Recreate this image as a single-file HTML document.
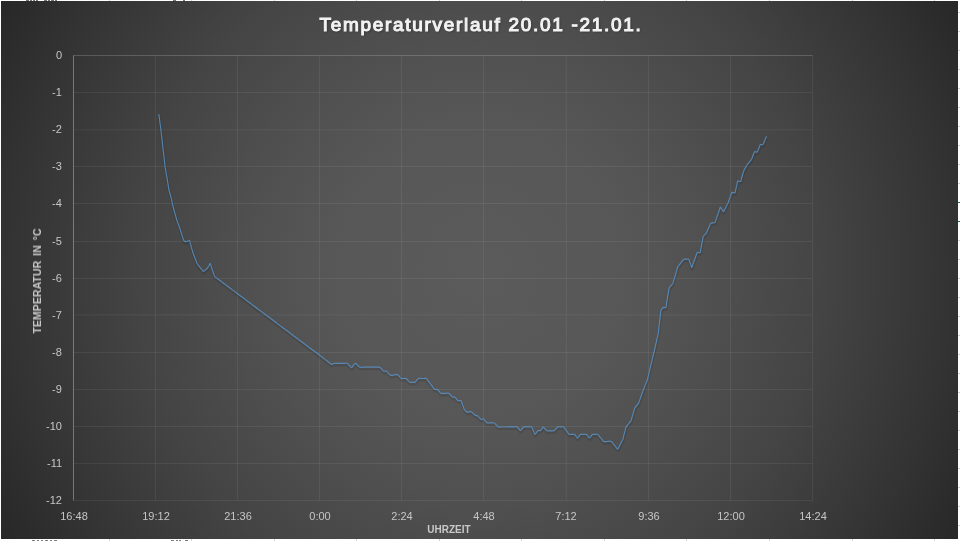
<!DOCTYPE html>
<html><head><meta charset="utf-8"><style>
html,body{margin:0;padding:0;width:960px;height:541px;overflow:hidden;background:#fff;}
#chart{position:absolute;left:1px;top:1px;width:957px;height:538px;
background:radial-gradient(circle 560px at 478.5px 268.8px, #5b5b5b 0px, #575757 150px, #505050 230px, #444444 345px, #333333 470px, #292929 538px, #262626 560px);}
svg{position:absolute;left:0;top:0;}
.t{position:absolute;font-family:"Liberation Sans",sans-serif;}
.t,.yl,.xl{will-change:transform;}
#title{left:2px;width:958px;top:14px;text-align:center;font-size:19px;font-weight:normal;-webkit-text-stroke:1.1px #f2f2f2;color:#f2f2f2;letter-spacing:1.7px;text-shadow:1px 1px 2px rgba(0,0,0,0.45);line-height:22px;}
.yl{position:absolute;right:898px;font-family:"Liberation Sans",sans-serif;font-size:11px;color:#c6c6c6;line-height:12px;margin-top:-6.4px;white-space:nowrap;}
.xl{position:absolute;top:510px;font-family:"Liberation Sans",sans-serif;font-size:11px;color:#c6c6c6;line-height:12px;width:60px;margin-left:-30px;text-align:center;}
#xt{left:0;width:898px;top:524px;text-align:center;font-size:10px;font-weight:bold;color:#c8c8c8;line-height:12px;}
#yt{left:37px;top:280.5px;font-size:10.6px;word-spacing:2px;font-weight:bold;color:#c8c8c8;line-height:12px;white-space:nowrap;transform:translate(-50%,-50%) rotate(-90deg);}
</style></head><body>
<div style="position:absolute;left:109px;top:0;width:1px;height:1px;background:#d4d4d4"></div>
<div style="position:absolute;left:109px;top:539px;width:1px;height:2px;background:#d4d4d4"></div>
<div style="position:absolute;left:191px;top:0;width:1px;height:1px;background:#d4d4d4"></div>
<div style="position:absolute;left:191px;top:539px;width:1px;height:2px;background:#d4d4d4"></div>
<div style="position:absolute;left:274px;top:0;width:1px;height:1px;background:#d4d4d4"></div>
<div style="position:absolute;left:274px;top:539px;width:1px;height:2px;background:#d4d4d4"></div>
<div style="position:absolute;left:356px;top:0;width:1px;height:1px;background:#d4d4d4"></div>
<div style="position:absolute;left:356px;top:539px;width:1px;height:2px;background:#d4d4d4"></div>
<div style="position:absolute;left:439px;top:0;width:1px;height:1px;background:#d4d4d4"></div>
<div style="position:absolute;left:439px;top:539px;width:1px;height:2px;background:#d4d4d4"></div>
<div style="position:absolute;left:521px;top:0;width:1px;height:1px;background:#d4d4d4"></div>
<div style="position:absolute;left:521px;top:539px;width:1px;height:2px;background:#d4d4d4"></div>
<div style="position:absolute;left:604px;top:0;width:1px;height:1px;background:#d4d4d4"></div>
<div style="position:absolute;left:604px;top:539px;width:1px;height:2px;background:#d4d4d4"></div>
<div style="position:absolute;left:686px;top:0;width:1px;height:1px;background:#d4d4d4"></div>
<div style="position:absolute;left:686px;top:539px;width:1px;height:2px;background:#d4d4d4"></div>
<div style="position:absolute;left:769px;top:0;width:1px;height:1px;background:#d4d4d4"></div>
<div style="position:absolute;left:769px;top:539px;width:1px;height:2px;background:#d4d4d4"></div>
<div style="position:absolute;left:852px;top:0;width:1px;height:1px;background:#d4d4d4"></div>
<div style="position:absolute;left:852px;top:539px;width:1px;height:2px;background:#d4d4d4"></div>
<div style="position:absolute;left:934px;top:0;width:1px;height:1px;background:#d4d4d4"></div>
<div style="position:absolute;left:934px;top:539px;width:1px;height:2px;background:#d4d4d4"></div>
<div style="position:absolute;left:958px;top:12px;width:2px;height:1px;background:#d4d4d4"></div>
<div style="position:absolute;left:958px;top:31px;width:2px;height:1px;background:#d4d4d4"></div>
<div style="position:absolute;left:958px;top:50px;width:2px;height:1px;background:#d4d4d4"></div>
<div style="position:absolute;left:958px;top:69px;width:2px;height:1px;background:#d4d4d4"></div>
<div style="position:absolute;left:958px;top:88px;width:2px;height:1px;background:#d4d4d4"></div>
<div style="position:absolute;left:958px;top:107px;width:2px;height:1px;background:#d4d4d4"></div>
<div style="position:absolute;left:958px;top:126px;width:2px;height:1px;background:#d4d4d4"></div>
<div style="position:absolute;left:958px;top:145px;width:2px;height:1px;background:#d4d4d4"></div>
<div style="position:absolute;left:958px;top:164px;width:2px;height:1px;background:#d4d4d4"></div>
<div style="position:absolute;left:958px;top:183px;width:2px;height:1px;background:#d4d4d4"></div>
<div style="position:absolute;left:958px;top:202px;width:2px;height:1px;background:#217346"></div>
<div style="position:absolute;left:958px;top:221px;width:2px;height:1px;background:#217346"></div>
<div style="position:absolute;left:958px;top:240px;width:2px;height:1px;background:#d4d4d4"></div>
<div style="position:absolute;left:958px;top:259px;width:2px;height:1px;background:#d4d4d4"></div>
<div style="position:absolute;left:958px;top:278px;width:2px;height:1px;background:#d4d4d4"></div>
<div style="position:absolute;left:958px;top:297px;width:2px;height:1px;background:#d4d4d4"></div>
<div style="position:absolute;left:958px;top:316px;width:2px;height:1px;background:#d4d4d4"></div>
<div style="position:absolute;left:958px;top:335px;width:2px;height:1px;background:#d4d4d4"></div>
<div style="position:absolute;left:958px;top:354px;width:2px;height:1px;background:#d4d4d4"></div>
<div style="position:absolute;left:958px;top:373px;width:2px;height:1px;background:#d4d4d4"></div>
<div style="position:absolute;left:958px;top:392px;width:2px;height:1px;background:#d4d4d4"></div>
<div style="position:absolute;left:958px;top:411px;width:2px;height:1px;background:#d4d4d4"></div>
<div style="position:absolute;left:958px;top:430px;width:2px;height:1px;background:#d4d4d4"></div>
<div style="position:absolute;left:958px;top:449px;width:2px;height:1px;background:#d4d4d4"></div>
<div style="position:absolute;left:958px;top:468px;width:2px;height:1px;background:#d4d4d4"></div>
<div style="position:absolute;left:958px;top:487px;width:2px;height:1px;background:#d4d4d4"></div>
<div style="position:absolute;left:958px;top:506px;width:2px;height:1px;background:#d4d4d4"></div>
<div style="position:absolute;left:958px;top:525px;width:2px;height:1px;background:#d4d4d4"></div>
<div style="position:absolute;left:26px;top:0;width:3px;height:1px;background:#000;opacity:0.55"></div>
<div style="position:absolute;left:30px;top:0;width:2px;height:1px;background:#000;opacity:0.55"></div>
<div style="position:absolute;left:33px;top:0;width:2px;height:1px;background:#000;opacity:0.55"></div>
<div style="position:absolute;left:36px;top:0;width:2px;height:1px;background:#000;opacity:0.55"></div>
<div style="position:absolute;left:44px;top:0;width:3px;height:1px;background:#000;opacity:0.55"></div>
<div style="position:absolute;left:48px;top:0;width:2px;height:1px;background:#000;opacity:0.55"></div>
<div style="position:absolute;left:51px;top:0;width:3px;height:1px;background:#000;opacity:0.55"></div>
<div style="position:absolute;left:55px;top:0;width:2px;height:1px;background:#000;opacity:0.55"></div>
<div style="position:absolute;left:173px;top:0;width:3px;height:1px;background:#000;opacity:0.55"></div>
<div style="position:absolute;left:183px;top:0;width:2px;height:1px;background:#000;opacity:0.55"></div>
<div style="position:absolute;left:32px;top:540px;width:3px;height:1px;background:#000;opacity:0.5"></div>
<div style="position:absolute;left:37px;top:540px;width:2px;height:1px;background:#000;opacity:0.5"></div>
<div style="position:absolute;left:41px;top:540px;width:2px;height:1px;background:#000;opacity:0.5"></div>
<div style="position:absolute;left:45px;top:540px;width:3px;height:1px;background:#000;opacity:0.5"></div>
<div style="position:absolute;left:50px;top:540px;width:2px;height:1px;background:#000;opacity:0.5"></div>
<div style="position:absolute;left:54px;top:540px;width:3px;height:1px;background:#000;opacity:0.5"></div>
<div style="position:absolute;left:171px;top:540px;width:3px;height:1px;background:#000;opacity:0.5"></div>
<div style="position:absolute;left:176px;top:540px;width:2px;height:1px;background:#000;opacity:0.5"></div>
<div style="position:absolute;left:179px;top:540px;width:2px;height:1px;background:#000;opacity:0.5"></div>
<div style="position:absolute;left:185px;top:540px;width:3px;height:1px;background:#000;opacity:0.5"></div>
<div id="chart"></div>
<svg width="960" height="541" viewBox="0 0 960 541">
<g stroke="#ffffff" stroke-opacity="0.065" stroke-width="1">
<line x1="73.5" y1="55.5" x2="812.5" y2="55.5"/>
<line x1="73.5" y1="92.5" x2="812.5" y2="92.5"/>
<line x1="73.5" y1="129.8" x2="812.5" y2="129.8"/>
<line x1="73.5" y1="166.5" x2="812.5" y2="166.5"/>
<line x1="73.5" y1="203.5" x2="812.5" y2="203.5"/>
<line x1="73.5" y1="241.5" x2="812.5" y2="241.5"/>
<line x1="73.5" y1="278.5" x2="812.5" y2="278.5"/>
<line x1="73.5" y1="314.9" x2="812.5" y2="314.9"/>
<line x1="73.5" y1="352.5" x2="812.5" y2="352.5"/>
<line x1="73.5" y1="389.5" x2="812.5" y2="389.5"/>
<line x1="73.5" y1="426.5" x2="812.5" y2="426.5"/>
<line x1="73.5" y1="463.5" x2="812.5" y2="463.5"/>
<line x1="73.5" y1="500.5" x2="812.5" y2="500.5"/>
<line x1="155.5" y1="55.5" x2="155.5" y2="500.5"/>
<line x1="237.5" y1="55.5" x2="237.5" y2="500.5"/>
<line x1="319.5" y1="55.5" x2="319.5" y2="500.5"/>
<line x1="401.5" y1="55.5" x2="401.5" y2="500.5"/>
<line x1="483.5" y1="55.5" x2="483.5" y2="500.5"/>
<line x1="566.3" y1="55.5" x2="566.3" y2="500.5"/>
<line x1="648.5" y1="55.5" x2="648.5" y2="500.5"/>
<line x1="730.5" y1="55.5" x2="730.5" y2="500.5"/>
<line x1="812.5" y1="55.5" x2="812.5" y2="500.5"/>
</g>
<line x1="73.5" y1="55.5" x2="73.5" y2="500.5" stroke="#ffffff" stroke-opacity="0.33" stroke-width="1"/>
<line x1="73.5" y1="55.5" x2="812.5" y2="55.5" stroke="#ffffff" stroke-opacity="0.12" stroke-width="1"/>
<path d="M158.90 114.60 C159.0 115.1 159.2 116.9 159.3 117.6 C159.4 118.4 159.6 119.9 159.7 120.6 C159.8 121.4 160.0 122.9 160.1 123.7 C160.2 124.4 160.4 125.9 160.5 126.7 C160.6 127.4 160.8 128.9 160.9 129.7 C161.0 130.5 161.2 132.0 161.2 132.8 C161.3 133.6 161.5 135.1 161.6 135.9 C161.7 136.7 161.9 138.2 161.9 139.0 C162.0 139.7 162.2 141.3 162.3 142.1 C162.4 142.8 162.6 144.4 162.7 145.2 C162.7 145.9 162.9 147.5 163.0 148.2 C163.1 149.0 163.3 150.6 163.3 151.3 C163.4 152.1 163.6 153.7 163.7 154.4 C163.8 155.2 164.0 156.8 164.1 157.5 C164.1 158.3 164.3 159.8 164.4 160.6 C164.5 161.4 164.7 162.9 164.8 163.7 C164.8 164.5 165.0 166.0 165.1 166.8 C165.2 167.6 165.5 169.3 165.7 170.1 C165.8 170.9 166.1 172.6 166.2 173.4 C166.3 174.2 166.6 175.9 166.8 176.7 C166.9 177.5 167.2 179.2 167.3 180.0 C167.4 180.7 167.6 182.0 167.8 182.7 C167.9 183.3 168.1 184.7 168.2 185.3 C168.3 186.0 168.5 187.4 168.7 188.0 C168.8 188.7 168.9 190.0 169.1 190.7 C169.3 191.6 169.8 193.3 170.1 194.2 C170.3 195.1 170.9 196.8 171.1 197.7 C171.3 198.3 171.5 199.6 171.7 200.3 C171.8 200.9 172.1 202.2 172.2 202.9 C172.4 203.6 172.6 204.9 172.8 205.5 C173.0 206.2 173.3 207.5 173.5 208.2 C173.7 208.8 174.1 210.2 174.2 210.8 C174.4 211.5 174.8 212.8 175.0 213.5 C175.1 214.1 175.5 215.5 175.7 216.1 C175.9 216.8 176.2 218.1 176.4 218.8 C176.6 219.5 177.1 220.8 177.3 221.4 C177.6 222.1 178.0 223.3 178.2 224.0 C178.5 224.7 178.9 225.9 179.2 226.6 C179.4 227.2 179.9 228.5 180.1 229.2 C180.3 229.9 180.8 231.4 181.0 232.1 C181.3 232.8 181.7 234.2 181.9 234.9 C182.2 235.7 182.6 237.1 182.9 237.8 C183.1 238.5 183.3 240.1 183.8 240.7 C184.2 241.2 185.5 241.7 186.1 241.7 C187.0 241.7 188.7 240.3 189.4 240.5 C190.1 240.7 190.0 242.5 190.2 243.2 C190.4 243.8 190.8 245.2 191.0 245.8 C191.2 246.5 191.5 247.8 191.7 248.5 C191.9 249.1 192.3 250.5 192.5 251.1 C192.7 251.8 193.1 253.1 193.3 253.8 C193.5 254.4 194.0 255.7 194.3 256.3 C194.5 256.9 195.0 258.2 195.2 258.8 C195.5 259.4 196.0 260.7 196.2 261.3 C196.5 261.9 196.9 263.2 197.2 263.8 C197.6 264.5 198.7 265.7 199.2 266.3 C199.7 267.0 200.8 268.2 201.3 268.9 C201.8 269.5 202.6 271.2 203.3 271.4 C203.9 271.5 204.8 270.2 205.2 269.9 C205.7 269.5 206.8 268.8 207.2 268.3 C207.7 267.8 208.4 266.5 208.8 266.0 C209.1 265.4 209.9 263.4 210.3 263.6 C210.7 263.8 211.1 266.2 211.4 267.1 C211.7 267.9 212.2 269.6 212.5 270.5 C212.8 271.3 213.3 272.8 213.6 273.6 C213.9 274.3 214.2 275.9 214.7 276.6 C215.1 277.2 216.5 277.9 217.1 278.4 C217.7 278.8 218.9 279.7 219.5 280.2 C220.1 280.6 221.3 281.5 221.9 282.0 C222.5 282.4 223.6 283.3 224.2 283.8 C224.8 284.2 226.0 285.1 226.6 285.5 C227.2 286.0 228.4 286.9 229.0 287.3 C229.6 287.8 230.8 288.7 231.4 289.1 C232.0 289.6 233.2 290.5 233.8 290.9 C234.4 291.4 235.6 292.3 236.2 292.7 C236.8 293.2 238.0 294.1 238.6 294.5 C239.2 294.9 240.3 295.8 240.9 296.3 C241.5 296.7 242.7 297.6 243.3 298.1 C243.9 298.5 245.1 299.4 245.7 299.9 C246.3 300.3 247.5 301.2 248.1 301.7 C248.7 302.1 249.9 303.0 250.5 303.4 C251.1 303.9 252.3 304.8 252.9 305.2 C253.5 305.7 254.7 306.6 255.3 307.0 C255.9 307.5 257.0 308.4 257.6 308.8 C258.2 309.3 259.4 310.2 260.0 310.6 C260.6 311.1 261.8 311.9 262.4 312.4 C263.0 312.8 264.2 313.7 264.8 314.2 C265.4 314.6 266.6 315.5 267.2 316.0 C267.8 316.4 269.0 317.3 269.6 317.8 C270.2 318.2 271.4 319.1 272.0 319.6 C272.6 320.0 273.7 320.9 274.3 321.3 C274.9 321.8 276.1 322.7 276.7 323.1 C277.3 323.6 278.5 324.5 279.1 324.9 C279.7 325.4 280.9 326.3 281.5 326.7 C282.1 327.2 283.3 328.1 283.9 328.5 C284.5 329.0 285.7 329.8 286.3 330.3 C286.9 330.7 288.1 331.6 288.7 332.1 C289.3 332.5 290.4 333.4 291.0 333.9 C291.6 334.3 292.8 335.2 293.4 335.7 C294.0 336.1 295.2 337.0 295.8 337.5 C296.4 337.9 297.6 338.8 298.2 339.2 C298.8 339.7 300.0 340.6 300.6 341.0 C301.2 341.5 302.4 342.4 303.0 342.8 C303.6 343.3 304.8 344.2 305.4 344.6 C306.0 345.1 307.1 346.0 307.7 346.4 C308.3 346.8 309.5 347.7 310.1 348.2 C310.7 348.6 311.9 349.5 312.5 350.0 C313.1 350.4 314.3 351.3 314.9 351.8 C315.5 352.2 316.7 353.1 317.3 353.6 C317.9 354.0 319.1 354.9 319.7 355.4 C320.3 355.8 321.5 356.7 322.1 357.1 C322.7 357.6 323.8 358.5 324.4 358.9 C325.0 359.4 326.2 360.3 326.8 360.7 C327.4 361.2 328.6 362.1 329.2 362.5 C329.8 363.0 330.9 364.2 331.6 364.3 C332.3 364.4 333.7 363.4 334.4 363.3 C335.2 363.2 336.8 363.3 337.6 363.3 C338.4 363.3 340.0 363.3 340.8 363.3 C341.6 363.3 343.2 363.3 344.0 363.3 C344.8 363.3 346.5 363.0 347.2 363.3 C347.9 363.6 348.8 364.9 349.4 365.4 C349.9 365.9 350.9 367.5 351.6 367.5 C352.3 367.5 353.0 365.9 353.5 365.4 C353.9 364.9 354.6 363.3 355.3 363.3 C356.0 363.3 357.0 364.8 357.6 365.2 C358.2 365.7 359.2 366.9 359.9 367.2 C360.6 367.5 362.0 367.2 362.8 367.2 C363.5 367.2 364.9 367.2 365.6 367.2 C366.3 367.2 367.8 367.2 368.5 367.2 C369.2 367.2 370.6 367.2 371.3 367.2 C372.0 367.2 373.5 367.2 374.2 367.2 C374.9 367.2 376.3 367.2 377.0 367.2 C377.8 367.2 379.2 366.9 379.9 367.2 C380.5 367.5 381.3 368.7 381.8 369.2 C382.3 369.7 383.1 370.9 383.7 371.2 C384.3 371.5 385.9 370.9 386.5 371.2 C387.1 371.5 388.0 372.7 388.4 373.2 C388.9 373.7 389.7 375.0 390.4 375.2 C391.3 375.5 393.1 375.1 394.0 375.0 C394.9 374.9 396.7 374.5 397.6 374.8 C398.3 375.0 399.1 376.2 399.6 376.7 C400.0 377.2 400.8 378.4 401.5 378.6 C402.6 378.9 404.8 378.1 405.9 378.4 C406.6 378.6 407.4 379.8 407.9 380.3 C408.3 380.8 409.2 381.9 409.8 382.2 C410.4 382.5 411.8 382.3 412.4 382.3 C413.1 382.3 414.4 382.7 415.0 382.4 C415.6 382.1 416.2 380.9 416.6 380.4 C417.1 380.0 417.7 378.8 418.3 378.5 C418.9 378.2 420.3 378.5 421.0 378.5 C421.7 378.5 423.0 378.5 423.7 378.5 C424.4 378.5 425.8 378.2 426.4 378.5 C427.1 378.9 427.9 380.5 428.4 381.2 C428.9 381.8 429.9 383.2 430.4 383.9 C430.9 384.5 431.9 385.9 432.4 386.5 C432.9 387.2 433.7 388.8 434.4 389.2 C435.1 389.6 436.9 389.3 437.7 389.6 C438.3 389.9 438.9 391.0 439.4 391.5 C439.8 391.9 440.4 393.1 441.0 393.3 C441.6 393.6 443.0 393.3 443.6 393.3 C444.2 393.3 445.6 393.3 446.2 393.3 C446.9 393.3 448.2 393.0 448.8 393.3 C449.4 393.6 450.3 394.8 450.8 395.2 C451.2 395.7 452.1 396.9 452.7 397.2 C453.2 397.4 454.4 397.0 454.9 397.2 C455.4 397.4 456.1 398.5 456.5 398.9 C457.0 399.4 457.6 400.5 458.2 400.7 C458.9 401.0 460.4 400.3 461.0 400.7 C461.6 401.2 461.8 402.8 462.1 403.6 C462.4 404.3 462.9 405.7 463.2 406.4 C463.5 407.2 463.9 408.7 464.3 409.3 C464.9 410.1 466.2 411.8 467.1 412.1 C468.0 412.4 470.0 411.4 471.0 411.6 C471.7 411.8 472.6 413.0 473.2 413.5 C473.8 414.0 474.8 415.1 475.4 415.4 C475.9 415.7 477.1 415.5 477.6 415.8 C478.1 416.1 478.9 417.1 479.3 417.6 C479.7 418.0 480.4 419.1 481.0 419.3 C481.6 419.5 483.1 419.0 483.7 419.3 C484.3 419.5 485.0 420.7 485.4 421.1 C485.8 421.6 486.5 422.7 487.1 422.9 C487.9 423.2 489.8 422.9 490.6 422.9 C491.5 423.0 493.4 422.7 494.2 423.0 C494.9 423.2 495.7 424.5 496.2 425.0 C496.8 425.5 497.6 426.7 498.3 427.0 C499.0 427.3 500.7 427.0 501.4 427.0 C502.2 427.0 503.8 427.0 504.6 427.0 C505.4 427.0 506.9 427.0 507.7 426.9 C508.5 426.9 510.1 426.9 510.8 426.9 C511.6 426.9 513.2 426.9 514.0 426.9 C514.8 426.9 516.4 426.6 517.1 426.9 C517.7 427.1 518.3 428.2 518.8 428.7 C519.2 429.1 519.8 430.5 520.4 430.5 C521.0 430.5 521.7 429.1 522.1 428.7 C522.6 428.2 523.3 427.1 523.9 426.9 C524.5 426.7 525.9 426.9 526.5 426.9 C527.1 426.9 528.5 426.9 529.1 426.9 C529.8 426.9 531.2 426.5 531.7 426.9 C532.3 427.3 532.5 428.8 532.8 429.4 C533.1 430.0 533.6 431.3 533.9 431.9 C534.2 432.5 534.6 434.3 535.0 434.4 C535.4 434.5 536.1 433.1 536.5 432.6 C536.8 432.2 537.4 431.1 537.9 430.8 C538.5 430.5 540.0 430.9 540.5 430.5 C541.4 429.9 542.5 427.4 543.3 427.1 C543.9 426.9 544.6 428.5 545.0 429.0 C545.5 429.4 546.2 430.6 546.8 430.8 C547.7 431.1 549.5 430.8 550.5 430.8 C551.4 430.8 553.2 431.1 554.1 430.8 C554.7 430.6 555.5 429.3 555.9 428.9 C556.4 428.4 557.1 427.2 557.7 426.9 C558.4 426.6 559.8 426.9 560.5 426.9 C561.3 426.9 562.8 426.6 563.4 426.9 C564.1 427.3 564.9 428.8 565.3 429.4 C565.8 430.0 566.8 431.3 567.3 431.9 C567.8 432.5 568.5 434.0 569.2 434.4 C569.8 434.7 571.1 434.4 571.8 434.4 C572.4 434.4 573.8 434.1 574.4 434.4 C575.0 434.6 575.6 435.8 576.0 436.2 C576.3 436.7 577.0 438.1 577.5 438.1 C578.0 438.1 578.7 436.7 579.0 436.2 C579.4 435.8 580.0 434.6 580.6 434.4 C581.3 434.1 582.8 434.4 583.5 434.4 C584.2 434.4 585.7 434.1 586.4 434.4 C586.9 434.6 587.5 435.8 587.8 436.2 C588.2 436.6 588.8 438.0 589.3 438.0 C589.8 438.0 590.5 436.6 591.0 436.2 C591.4 435.8 592.0 434.6 592.6 434.4 C593.2 434.1 594.6 434.4 595.2 434.4 C595.9 434.4 597.2 434.1 597.8 434.4 C598.5 434.8 599.3 436.2 599.8 436.8 C600.3 437.4 601.2 438.6 601.7 439.2 C602.2 439.8 603.0 441.3 603.7 441.6 C604.6 441.9 606.5 441.5 607.4 441.5 C608.3 441.5 610.2 441.0 611.1 441.4 C611.9 441.7 612.8 443.3 613.3 444.0 C613.9 444.6 615.0 445.9 615.5 446.6 C616.0 447.2 617.1 449.2 617.7 449.2 C618.3 449.2 618.7 447.3 619.0 446.7 C619.3 446.1 620.0 444.8 620.3 444.2 C620.6 443.6 621.3 442.3 621.6 441.7 C621.9 441.1 622.7 439.9 622.9 439.2 C623.2 438.5 623.5 437.0 623.6 436.2 C623.8 435.5 624.2 434.0 624.4 433.2 C624.6 432.5 625.0 431.0 625.1 430.3 C625.3 429.5 625.6 428.0 625.9 427.3 C626.2 426.7 627.2 425.7 627.6 425.1 C628.0 424.6 628.9 423.4 629.3 422.9 C629.7 422.3 630.7 421.3 631.0 420.7 C631.4 420.0 631.7 418.3 631.9 417.6 C632.2 416.8 632.6 415.2 632.9 414.4 C633.1 413.6 633.5 412.0 633.8 411.2 C634.0 410.5 634.3 408.8 634.7 408.1 C635.0 407.5 636.1 406.4 636.5 405.9 C637.0 405.3 638.0 404.3 638.4 403.7 C638.8 403.1 639.1 401.6 639.4 401.0 C639.6 400.3 640.1 398.9 640.4 398.2 C640.6 397.5 641.1 396.2 641.3 395.5 C641.6 394.8 642.1 393.4 642.3 392.7 C642.6 392.1 643.0 390.7 643.3 390.0 C643.5 389.4 644.0 388.1 644.3 387.5 C644.5 386.9 645.0 385.6 645.3 385.0 C645.5 384.4 646.0 383.1 646.3 382.5 C646.5 381.9 647.1 380.6 647.3 380.0 C647.5 379.3 647.8 377.9 648.0 377.2 C648.1 376.5 648.5 375.0 648.7 374.3 C648.8 373.6 649.2 372.2 649.3 371.5 C649.5 370.8 649.8 369.3 650.0 368.6 C650.2 367.9 650.5 366.5 650.7 365.8 C650.9 365.1 651.2 363.7 651.4 363.0 C651.5 362.3 651.9 360.8 652.1 360.1 C652.2 359.4 652.6 358.0 652.7 357.3 C652.9 356.6 653.3 355.2 653.4 354.4 C653.6 353.7 653.9 352.3 654.1 351.6 C654.3 350.8 654.6 349.3 654.8 348.6 C655.0 347.8 655.3 346.3 655.5 345.5 C655.7 344.7 656.0 343.2 656.2 342.5 C656.4 341.7 656.7 340.2 656.9 339.4 C657.1 338.6 657.4 337.1 657.6 336.4 C657.8 335.6 658.2 334.1 658.3 333.3 C658.4 332.6 658.5 331.2 658.6 330.5 C658.7 329.8 658.8 328.4 658.9 327.7 C659.0 327.0 659.2 325.6 659.2 324.9 C659.3 324.2 659.5 322.8 659.5 322.1 C659.6 321.3 659.8 319.9 659.9 319.2 C659.9 318.5 660.1 317.1 660.2 316.4 C660.3 315.7 660.4 314.3 660.5 313.6 C660.6 312.9 660.5 311.4 660.8 310.8 C661.2 309.9 662.5 308.1 663.3 307.5 C663.8 307.2 665.3 307.9 665.8 307.5 C666.3 307.0 666.2 305.4 666.3 304.7 C666.4 304.0 666.6 302.7 666.7 302.0 C666.9 301.3 667.1 299.9 667.2 299.2 C667.3 298.5 667.6 297.1 667.7 296.4 C667.8 295.7 668.0 294.3 668.2 293.6 C668.3 292.9 668.5 291.6 668.6 290.9 C668.7 290.2 668.8 288.7 669.1 288.1 C669.4 287.4 670.5 286.4 671.0 285.9 C671.4 285.3 672.5 284.2 672.8 283.6 C673.1 282.9 673.4 281.5 673.6 280.8 C673.9 280.1 674.3 278.6 674.5 277.9 C674.7 277.2 675.1 275.8 675.3 275.1 C675.6 274.4 676.0 273.0 676.2 272.3 C676.4 271.6 676.8 270.1 677.0 269.4 C677.3 268.7 677.6 267.3 677.9 266.6 C678.3 265.9 679.4 264.8 679.9 264.1 C680.4 263.5 681.3 262.3 681.8 261.7 C682.3 261.1 683.1 259.6 683.8 259.2 C684.3 258.9 685.6 259.2 686.2 259.2 C686.9 259.2 688.2 258.8 688.7 259.2 C689.3 259.7 689.5 261.2 689.7 261.9 C690.0 262.6 690.5 264.0 690.7 264.7 C691.0 265.3 691.4 267.4 691.7 267.4 C692.1 267.4 692.5 265.2 692.8 264.4 C693.1 263.7 693.6 262.2 693.9 261.5 C694.2 260.7 694.7 259.3 695.0 258.5 C695.3 257.8 695.8 256.3 696.1 255.6 C696.4 254.8 696.6 253.1 697.2 252.6 C697.8 252.2 699.6 253.1 700.1 252.6 C700.7 252.1 700.6 250.2 700.7 249.4 C700.9 248.6 701.2 247.0 701.4 246.2 C701.5 245.4 701.9 243.7 702.0 242.9 C702.2 242.1 702.5 240.5 702.7 239.7 C702.8 238.9 702.9 237.2 703.3 236.5 C703.8 235.5 705.7 234.1 706.3 233.2 C706.7 232.6 707.1 231.3 707.4 230.7 C707.7 230.1 708.3 228.8 708.5 228.2 C708.8 227.6 709.4 226.3 709.7 225.7 C710.0 225.1 710.2 223.6 710.8 223.2 C711.7 222.6 714.1 223.0 715.0 222.4 C715.6 221.9 715.8 220.2 716.1 219.4 C716.3 218.7 716.9 217.2 717.1 216.4 C717.4 215.7 717.9 214.2 718.2 213.4 C718.4 212.7 719.0 211.2 719.2 210.4 C719.5 209.7 719.8 207.6 720.3 207.4 C720.8 207.2 721.5 209.0 722.0 209.5 C722.4 210.0 723.1 211.8 723.6 211.6 C724.1 211.4 724.8 209.3 725.2 208.5 C725.6 207.8 726.3 206.2 726.7 205.5 C727.1 204.7 728.0 203.2 728.3 202.4 C728.6 201.8 729.0 200.5 729.2 199.9 C729.4 199.3 729.9 198.0 730.1 197.4 C730.3 196.8 730.8 195.5 731.0 194.9 C731.2 194.3 731.3 192.7 731.9 192.4 C732.5 192.1 734.3 193.3 734.9 192.9 C735.5 192.5 735.4 190.7 735.6 190.0 C735.8 189.3 736.1 187.8 736.3 187.1 C736.5 186.4 736.8 184.9 737.0 184.2 C737.2 183.5 737.1 181.8 737.7 181.3 C738.3 180.8 740.1 181.8 740.7 181.4 C741.3 181.0 741.2 179.5 741.4 178.8 C741.6 178.2 742.0 176.9 742.2 176.3 C742.3 175.7 742.7 174.4 742.9 173.8 C743.1 173.1 743.3 171.8 743.6 171.2 C743.9 170.4 744.8 169.0 745.2 168.2 C745.6 167.5 746.3 166.0 746.8 165.3 C747.3 164.5 748.5 163.1 749.1 162.4 C749.7 161.7 750.9 160.3 751.4 159.5 C751.8 158.9 752.2 157.6 752.5 156.9 C752.7 156.2 753.3 154.9 753.5 154.3 C753.8 153.6 754.0 152.1 754.6 151.7 C755.2 151.4 756.6 152.4 757.2 152.1 C757.8 151.8 758.0 150.2 758.3 149.6 C758.5 149.0 759.1 147.7 759.3 147.1 C759.6 146.5 759.8 145.0 760.4 144.6 C760.9 144.2 762.5 145.0 763.0 144.6 C763.6 144.2 763.8 142.7 764.1 142.0 C764.4 141.3 764.9 140.1 765.2 139.4 C765.5 138.8 766.1 137.2 766.3 136.8" fill="none" stroke="#000" stroke-opacity="0.10" stroke-width="3" stroke-linejoin="round" transform="translate(0.3,1.6)"/>
<path d="M158.90 114.60 C159.0 115.1 159.2 116.9 159.3 117.6 C159.4 118.4 159.6 119.9 159.7 120.6 C159.8 121.4 160.0 122.9 160.1 123.7 C160.2 124.4 160.4 125.9 160.5 126.7 C160.6 127.4 160.8 128.9 160.9 129.7 C161.0 130.5 161.2 132.0 161.2 132.8 C161.3 133.6 161.5 135.1 161.6 135.9 C161.7 136.7 161.9 138.2 161.9 139.0 C162.0 139.7 162.2 141.3 162.3 142.1 C162.4 142.8 162.6 144.4 162.7 145.2 C162.7 145.9 162.9 147.5 163.0 148.2 C163.1 149.0 163.3 150.6 163.3 151.3 C163.4 152.1 163.6 153.7 163.7 154.4 C163.8 155.2 164.0 156.8 164.1 157.5 C164.1 158.3 164.3 159.8 164.4 160.6 C164.5 161.4 164.7 162.9 164.8 163.7 C164.8 164.5 165.0 166.0 165.1 166.8 C165.2 167.6 165.5 169.3 165.7 170.1 C165.8 170.9 166.1 172.6 166.2 173.4 C166.3 174.2 166.6 175.9 166.8 176.7 C166.9 177.5 167.2 179.2 167.3 180.0 C167.4 180.7 167.6 182.0 167.8 182.7 C167.9 183.3 168.1 184.7 168.2 185.3 C168.3 186.0 168.5 187.4 168.7 188.0 C168.8 188.7 168.9 190.0 169.1 190.7 C169.3 191.6 169.8 193.3 170.1 194.2 C170.3 195.1 170.9 196.8 171.1 197.7 C171.3 198.3 171.5 199.6 171.7 200.3 C171.8 200.9 172.1 202.2 172.2 202.9 C172.4 203.6 172.6 204.9 172.8 205.5 C173.0 206.2 173.3 207.5 173.5 208.2 C173.7 208.8 174.1 210.2 174.2 210.8 C174.4 211.5 174.8 212.8 175.0 213.5 C175.1 214.1 175.5 215.5 175.7 216.1 C175.9 216.8 176.2 218.1 176.4 218.8 C176.6 219.5 177.1 220.8 177.3 221.4 C177.6 222.1 178.0 223.3 178.2 224.0 C178.5 224.7 178.9 225.9 179.2 226.6 C179.4 227.2 179.9 228.5 180.1 229.2 C180.3 229.9 180.8 231.4 181.0 232.1 C181.3 232.8 181.7 234.2 181.9 234.9 C182.2 235.7 182.6 237.1 182.9 237.8 C183.1 238.5 183.3 240.1 183.8 240.7 C184.2 241.2 185.5 241.7 186.1 241.7 C187.0 241.7 188.7 240.3 189.4 240.5 C190.1 240.7 190.0 242.5 190.2 243.2 C190.4 243.8 190.8 245.2 191.0 245.8 C191.2 246.5 191.5 247.8 191.7 248.5 C191.9 249.1 192.3 250.5 192.5 251.1 C192.7 251.8 193.1 253.1 193.3 253.8 C193.5 254.4 194.0 255.7 194.3 256.3 C194.5 256.9 195.0 258.2 195.2 258.8 C195.5 259.4 196.0 260.7 196.2 261.3 C196.5 261.9 196.9 263.2 197.2 263.8 C197.6 264.5 198.7 265.7 199.2 266.3 C199.7 267.0 200.8 268.2 201.3 268.9 C201.8 269.5 202.6 271.2 203.3 271.4 C203.9 271.5 204.8 270.2 205.2 269.9 C205.7 269.5 206.8 268.8 207.2 268.3 C207.7 267.8 208.4 266.5 208.8 266.0 C209.1 265.4 209.9 263.4 210.3 263.6 C210.7 263.8 211.1 266.2 211.4 267.1 C211.7 267.9 212.2 269.6 212.5 270.5 C212.8 271.3 213.3 272.8 213.6 273.6 C213.9 274.3 214.2 275.9 214.7 276.6 C215.1 277.2 216.5 277.9 217.1 278.4 C217.7 278.8 218.9 279.7 219.5 280.2 C220.1 280.6 221.3 281.5 221.9 282.0 C222.5 282.4 223.6 283.3 224.2 283.8 C224.8 284.2 226.0 285.1 226.6 285.5 C227.2 286.0 228.4 286.9 229.0 287.3 C229.6 287.8 230.8 288.7 231.4 289.1 C232.0 289.6 233.2 290.5 233.8 290.9 C234.4 291.4 235.6 292.3 236.2 292.7 C236.8 293.2 238.0 294.1 238.6 294.5 C239.2 294.9 240.3 295.8 240.9 296.3 C241.5 296.7 242.7 297.6 243.3 298.1 C243.9 298.5 245.1 299.4 245.7 299.9 C246.3 300.3 247.5 301.2 248.1 301.7 C248.7 302.1 249.9 303.0 250.5 303.4 C251.1 303.9 252.3 304.8 252.9 305.2 C253.5 305.7 254.7 306.6 255.3 307.0 C255.9 307.5 257.0 308.4 257.6 308.8 C258.2 309.3 259.4 310.2 260.0 310.6 C260.6 311.1 261.8 311.9 262.4 312.4 C263.0 312.8 264.2 313.7 264.8 314.2 C265.4 314.6 266.6 315.5 267.2 316.0 C267.8 316.4 269.0 317.3 269.6 317.8 C270.2 318.2 271.4 319.1 272.0 319.6 C272.6 320.0 273.7 320.9 274.3 321.3 C274.9 321.8 276.1 322.7 276.7 323.1 C277.3 323.6 278.5 324.5 279.1 324.9 C279.7 325.4 280.9 326.3 281.5 326.7 C282.1 327.2 283.3 328.1 283.9 328.5 C284.5 329.0 285.7 329.8 286.3 330.3 C286.9 330.7 288.1 331.6 288.7 332.1 C289.3 332.5 290.4 333.4 291.0 333.9 C291.6 334.3 292.8 335.2 293.4 335.7 C294.0 336.1 295.2 337.0 295.8 337.5 C296.4 337.9 297.6 338.8 298.2 339.2 C298.8 339.7 300.0 340.6 300.6 341.0 C301.2 341.5 302.4 342.4 303.0 342.8 C303.6 343.3 304.8 344.2 305.4 344.6 C306.0 345.1 307.1 346.0 307.7 346.4 C308.3 346.8 309.5 347.7 310.1 348.2 C310.7 348.6 311.9 349.5 312.5 350.0 C313.1 350.4 314.3 351.3 314.9 351.8 C315.5 352.2 316.7 353.1 317.3 353.6 C317.9 354.0 319.1 354.9 319.7 355.4 C320.3 355.8 321.5 356.7 322.1 357.1 C322.7 357.6 323.8 358.5 324.4 358.9 C325.0 359.4 326.2 360.3 326.8 360.7 C327.4 361.2 328.6 362.1 329.2 362.5 C329.8 363.0 330.9 364.2 331.6 364.3 C332.3 364.4 333.7 363.4 334.4 363.3 C335.2 363.2 336.8 363.3 337.6 363.3 C338.4 363.3 340.0 363.3 340.8 363.3 C341.6 363.3 343.2 363.3 344.0 363.3 C344.8 363.3 346.5 363.0 347.2 363.3 C347.9 363.6 348.8 364.9 349.4 365.4 C349.9 365.9 350.9 367.5 351.6 367.5 C352.3 367.5 353.0 365.9 353.5 365.4 C353.9 364.9 354.6 363.3 355.3 363.3 C356.0 363.3 357.0 364.8 357.6 365.2 C358.2 365.7 359.2 366.9 359.9 367.2 C360.6 367.5 362.0 367.2 362.8 367.2 C363.5 367.2 364.9 367.2 365.6 367.2 C366.3 367.2 367.8 367.2 368.5 367.2 C369.2 367.2 370.6 367.2 371.3 367.2 C372.0 367.2 373.5 367.2 374.2 367.2 C374.9 367.2 376.3 367.2 377.0 367.2 C377.8 367.2 379.2 366.9 379.9 367.2 C380.5 367.5 381.3 368.7 381.8 369.2 C382.3 369.7 383.1 370.9 383.7 371.2 C384.3 371.5 385.9 370.9 386.5 371.2 C387.1 371.5 388.0 372.7 388.4 373.2 C388.9 373.7 389.7 375.0 390.4 375.2 C391.3 375.5 393.1 375.1 394.0 375.0 C394.9 374.9 396.7 374.5 397.6 374.8 C398.3 375.0 399.1 376.2 399.6 376.7 C400.0 377.2 400.8 378.4 401.5 378.6 C402.6 378.9 404.8 378.1 405.9 378.4 C406.6 378.6 407.4 379.8 407.9 380.3 C408.3 380.8 409.2 381.9 409.8 382.2 C410.4 382.5 411.8 382.3 412.4 382.3 C413.1 382.3 414.4 382.7 415.0 382.4 C415.6 382.1 416.2 380.9 416.6 380.4 C417.1 380.0 417.7 378.8 418.3 378.5 C418.9 378.2 420.3 378.5 421.0 378.5 C421.7 378.5 423.0 378.5 423.7 378.5 C424.4 378.5 425.8 378.2 426.4 378.5 C427.1 378.9 427.9 380.5 428.4 381.2 C428.9 381.8 429.9 383.2 430.4 383.9 C430.9 384.5 431.9 385.9 432.4 386.5 C432.9 387.2 433.7 388.8 434.4 389.2 C435.1 389.6 436.9 389.3 437.7 389.6 C438.3 389.9 438.9 391.0 439.4 391.5 C439.8 391.9 440.4 393.1 441.0 393.3 C441.6 393.6 443.0 393.3 443.6 393.3 C444.2 393.3 445.6 393.3 446.2 393.3 C446.9 393.3 448.2 393.0 448.8 393.3 C449.4 393.6 450.3 394.8 450.8 395.2 C451.2 395.7 452.1 396.9 452.7 397.2 C453.2 397.4 454.4 397.0 454.9 397.2 C455.4 397.4 456.1 398.5 456.5 398.9 C457.0 399.4 457.6 400.5 458.2 400.7 C458.9 401.0 460.4 400.3 461.0 400.7 C461.6 401.2 461.8 402.8 462.1 403.6 C462.4 404.3 462.9 405.7 463.2 406.4 C463.5 407.2 463.9 408.7 464.3 409.3 C464.9 410.1 466.2 411.8 467.1 412.1 C468.0 412.4 470.0 411.4 471.0 411.6 C471.7 411.8 472.6 413.0 473.2 413.5 C473.8 414.0 474.8 415.1 475.4 415.4 C475.9 415.7 477.1 415.5 477.6 415.8 C478.1 416.1 478.9 417.1 479.3 417.6 C479.7 418.0 480.4 419.1 481.0 419.3 C481.6 419.5 483.1 419.0 483.7 419.3 C484.3 419.5 485.0 420.7 485.4 421.1 C485.8 421.6 486.5 422.7 487.1 422.9 C487.9 423.2 489.8 422.9 490.6 422.9 C491.5 423.0 493.4 422.7 494.2 423.0 C494.9 423.2 495.7 424.5 496.2 425.0 C496.8 425.5 497.6 426.7 498.3 427.0 C499.0 427.3 500.7 427.0 501.4 427.0 C502.2 427.0 503.8 427.0 504.6 427.0 C505.4 427.0 506.9 427.0 507.7 426.9 C508.5 426.9 510.1 426.9 510.8 426.9 C511.6 426.9 513.2 426.9 514.0 426.9 C514.8 426.9 516.4 426.6 517.1 426.9 C517.7 427.1 518.3 428.2 518.8 428.7 C519.2 429.1 519.8 430.5 520.4 430.5 C521.0 430.5 521.7 429.1 522.1 428.7 C522.6 428.2 523.3 427.1 523.9 426.9 C524.5 426.7 525.9 426.9 526.5 426.9 C527.1 426.9 528.5 426.9 529.1 426.9 C529.8 426.9 531.2 426.5 531.7 426.9 C532.3 427.3 532.5 428.8 532.8 429.4 C533.1 430.0 533.6 431.3 533.9 431.9 C534.2 432.5 534.6 434.3 535.0 434.4 C535.4 434.5 536.1 433.1 536.5 432.6 C536.8 432.2 537.4 431.1 537.9 430.8 C538.5 430.5 540.0 430.9 540.5 430.5 C541.4 429.9 542.5 427.4 543.3 427.1 C543.9 426.9 544.6 428.5 545.0 429.0 C545.5 429.4 546.2 430.6 546.8 430.8 C547.7 431.1 549.5 430.8 550.5 430.8 C551.4 430.8 553.2 431.1 554.1 430.8 C554.7 430.6 555.5 429.3 555.9 428.9 C556.4 428.4 557.1 427.2 557.7 426.9 C558.4 426.6 559.8 426.9 560.5 426.9 C561.3 426.9 562.8 426.6 563.4 426.9 C564.1 427.3 564.9 428.8 565.3 429.4 C565.8 430.0 566.8 431.3 567.3 431.9 C567.8 432.5 568.5 434.0 569.2 434.4 C569.8 434.7 571.1 434.4 571.8 434.4 C572.4 434.4 573.8 434.1 574.4 434.4 C575.0 434.6 575.6 435.8 576.0 436.2 C576.3 436.7 577.0 438.1 577.5 438.1 C578.0 438.1 578.7 436.7 579.0 436.2 C579.4 435.8 580.0 434.6 580.6 434.4 C581.3 434.1 582.8 434.4 583.5 434.4 C584.2 434.4 585.7 434.1 586.4 434.4 C586.9 434.6 587.5 435.8 587.8 436.2 C588.2 436.6 588.8 438.0 589.3 438.0 C589.8 438.0 590.5 436.6 591.0 436.2 C591.4 435.8 592.0 434.6 592.6 434.4 C593.2 434.1 594.6 434.4 595.2 434.4 C595.9 434.4 597.2 434.1 597.8 434.4 C598.5 434.8 599.3 436.2 599.8 436.8 C600.3 437.4 601.2 438.6 601.7 439.2 C602.2 439.8 603.0 441.3 603.7 441.6 C604.6 441.9 606.5 441.5 607.4 441.5 C608.3 441.5 610.2 441.0 611.1 441.4 C611.9 441.7 612.8 443.3 613.3 444.0 C613.9 444.6 615.0 445.9 615.5 446.6 C616.0 447.2 617.1 449.2 617.7 449.2 C618.3 449.2 618.7 447.3 619.0 446.7 C619.3 446.1 620.0 444.8 620.3 444.2 C620.6 443.6 621.3 442.3 621.6 441.7 C621.9 441.1 622.7 439.9 622.9 439.2 C623.2 438.5 623.5 437.0 623.6 436.2 C623.8 435.5 624.2 434.0 624.4 433.2 C624.6 432.5 625.0 431.0 625.1 430.3 C625.3 429.5 625.6 428.0 625.9 427.3 C626.2 426.7 627.2 425.7 627.6 425.1 C628.0 424.6 628.9 423.4 629.3 422.9 C629.7 422.3 630.7 421.3 631.0 420.7 C631.4 420.0 631.7 418.3 631.9 417.6 C632.2 416.8 632.6 415.2 632.9 414.4 C633.1 413.6 633.5 412.0 633.8 411.2 C634.0 410.5 634.3 408.8 634.7 408.1 C635.0 407.5 636.1 406.4 636.5 405.9 C637.0 405.3 638.0 404.3 638.4 403.7 C638.8 403.1 639.1 401.6 639.4 401.0 C639.6 400.3 640.1 398.9 640.4 398.2 C640.6 397.5 641.1 396.2 641.3 395.5 C641.6 394.8 642.1 393.4 642.3 392.7 C642.6 392.1 643.0 390.7 643.3 390.0 C643.5 389.4 644.0 388.1 644.3 387.5 C644.5 386.9 645.0 385.6 645.3 385.0 C645.5 384.4 646.0 383.1 646.3 382.5 C646.5 381.9 647.1 380.6 647.3 380.0 C647.5 379.3 647.8 377.9 648.0 377.2 C648.1 376.5 648.5 375.0 648.7 374.3 C648.8 373.6 649.2 372.2 649.3 371.5 C649.5 370.8 649.8 369.3 650.0 368.6 C650.2 367.9 650.5 366.5 650.7 365.8 C650.9 365.1 651.2 363.7 651.4 363.0 C651.5 362.3 651.9 360.8 652.1 360.1 C652.2 359.4 652.6 358.0 652.7 357.3 C652.9 356.6 653.3 355.2 653.4 354.4 C653.6 353.7 653.9 352.3 654.1 351.6 C654.3 350.8 654.6 349.3 654.8 348.6 C655.0 347.8 655.3 346.3 655.5 345.5 C655.7 344.7 656.0 343.2 656.2 342.5 C656.4 341.7 656.7 340.2 656.9 339.4 C657.1 338.6 657.4 337.1 657.6 336.4 C657.8 335.6 658.2 334.1 658.3 333.3 C658.4 332.6 658.5 331.2 658.6 330.5 C658.7 329.8 658.8 328.4 658.9 327.7 C659.0 327.0 659.2 325.6 659.2 324.9 C659.3 324.2 659.5 322.8 659.5 322.1 C659.6 321.3 659.8 319.9 659.9 319.2 C659.9 318.5 660.1 317.1 660.2 316.4 C660.3 315.7 660.4 314.3 660.5 313.6 C660.6 312.9 660.5 311.4 660.8 310.8 C661.2 309.9 662.5 308.1 663.3 307.5 C663.8 307.2 665.3 307.9 665.8 307.5 C666.3 307.0 666.2 305.4 666.3 304.7 C666.4 304.0 666.6 302.7 666.7 302.0 C666.9 301.3 667.1 299.9 667.2 299.2 C667.3 298.5 667.6 297.1 667.7 296.4 C667.8 295.7 668.0 294.3 668.2 293.6 C668.3 292.9 668.5 291.6 668.6 290.9 C668.7 290.2 668.8 288.7 669.1 288.1 C669.4 287.4 670.5 286.4 671.0 285.9 C671.4 285.3 672.5 284.2 672.8 283.6 C673.1 282.9 673.4 281.5 673.6 280.8 C673.9 280.1 674.3 278.6 674.5 277.9 C674.7 277.2 675.1 275.8 675.3 275.1 C675.6 274.4 676.0 273.0 676.2 272.3 C676.4 271.6 676.8 270.1 677.0 269.4 C677.3 268.7 677.6 267.3 677.9 266.6 C678.3 265.9 679.4 264.8 679.9 264.1 C680.4 263.5 681.3 262.3 681.8 261.7 C682.3 261.1 683.1 259.6 683.8 259.2 C684.3 258.9 685.6 259.2 686.2 259.2 C686.9 259.2 688.2 258.8 688.7 259.2 C689.3 259.7 689.5 261.2 689.7 261.9 C690.0 262.6 690.5 264.0 690.7 264.7 C691.0 265.3 691.4 267.4 691.7 267.4 C692.1 267.4 692.5 265.2 692.8 264.4 C693.1 263.7 693.6 262.2 693.9 261.5 C694.2 260.7 694.7 259.3 695.0 258.5 C695.3 257.8 695.8 256.3 696.1 255.6 C696.4 254.8 696.6 253.1 697.2 252.6 C697.8 252.2 699.6 253.1 700.1 252.6 C700.7 252.1 700.6 250.2 700.7 249.4 C700.9 248.6 701.2 247.0 701.4 246.2 C701.5 245.4 701.9 243.7 702.0 242.9 C702.2 242.1 702.5 240.5 702.7 239.7 C702.8 238.9 702.9 237.2 703.3 236.5 C703.8 235.5 705.7 234.1 706.3 233.2 C706.7 232.6 707.1 231.3 707.4 230.7 C707.7 230.1 708.3 228.8 708.5 228.2 C708.8 227.6 709.4 226.3 709.7 225.7 C710.0 225.1 710.2 223.6 710.8 223.2 C711.7 222.6 714.1 223.0 715.0 222.4 C715.6 221.9 715.8 220.2 716.1 219.4 C716.3 218.7 716.9 217.2 717.1 216.4 C717.4 215.7 717.9 214.2 718.2 213.4 C718.4 212.7 719.0 211.2 719.2 210.4 C719.5 209.7 719.8 207.6 720.3 207.4 C720.8 207.2 721.5 209.0 722.0 209.5 C722.4 210.0 723.1 211.8 723.6 211.6 C724.1 211.4 724.8 209.3 725.2 208.5 C725.6 207.8 726.3 206.2 726.7 205.5 C727.1 204.7 728.0 203.2 728.3 202.4 C728.6 201.8 729.0 200.5 729.2 199.9 C729.4 199.3 729.9 198.0 730.1 197.4 C730.3 196.8 730.8 195.5 731.0 194.9 C731.2 194.3 731.3 192.7 731.9 192.4 C732.5 192.1 734.3 193.3 734.9 192.9 C735.5 192.5 735.4 190.7 735.6 190.0 C735.8 189.3 736.1 187.8 736.3 187.1 C736.5 186.4 736.8 184.9 737.0 184.2 C737.2 183.5 737.1 181.8 737.7 181.3 C738.3 180.8 740.1 181.8 740.7 181.4 C741.3 181.0 741.2 179.5 741.4 178.8 C741.6 178.2 742.0 176.9 742.2 176.3 C742.3 175.7 742.7 174.4 742.9 173.8 C743.1 173.1 743.3 171.8 743.6 171.2 C743.9 170.4 744.8 169.0 745.2 168.2 C745.6 167.5 746.3 166.0 746.8 165.3 C747.3 164.5 748.5 163.1 749.1 162.4 C749.7 161.7 750.9 160.3 751.4 159.5 C751.8 158.9 752.2 157.6 752.5 156.9 C752.7 156.2 753.3 154.9 753.5 154.3 C753.8 153.6 754.0 152.1 754.6 151.7 C755.2 151.4 756.6 152.4 757.2 152.1 C757.8 151.8 758.0 150.2 758.3 149.6 C758.5 149.0 759.1 147.7 759.3 147.1 C759.6 146.5 759.8 145.0 760.4 144.6 C760.9 144.2 762.5 145.0 763.0 144.6 C763.6 144.2 763.8 142.7 764.1 142.0 C764.4 141.3 764.9 140.1 765.2 139.4 C765.5 138.8 766.1 137.2 766.3 136.8" fill="none" stroke="#5b9bd5" stroke-opacity="0.75" stroke-width="1.2" stroke-linejoin="round" stroke-linecap="round"/>
</svg>
<div class="t" id="title">Temperaturverlauf 20.01 -21.01.</div>
<div class="yl" style="top:55.5px">0</div>
<div class="yl" style="top:92.6px">-1</div>
<div class="yl" style="top:129.7px">-2</div>
<div class="yl" style="top:166.8px">-3</div>
<div class="yl" style="top:203.8px">-4</div>
<div class="yl" style="top:240.9px">-5</div>
<div class="yl" style="top:278.0px">-6</div>
<div class="yl" style="top:315.1px">-7</div>
<div class="yl" style="top:352.2px">-8</div>
<div class="yl" style="top:389.2px">-9</div>
<div class="yl" style="top:426.3px">-10</div>
<div class="yl" style="top:463.4px">-11</div>
<div class="yl" style="top:500.5px">-12</div>
<div class="xl" style="left:73.5px">16:48</div>
<div class="xl" style="left:155.5px">19:12</div>
<div class="xl" style="left:237.5px">21:36</div>
<div class="xl" style="left:319.5px">0:00</div>
<div class="xl" style="left:401.5px">2:24</div>
<div class="xl" style="left:483.5px">4:48</div>
<div class="xl" style="left:566.3px">7:12</div>
<div class="xl" style="left:648.5px">9:36</div>
<div class="xl" style="left:730.5px">12:00</div>
<div class="xl" style="left:812.5px">14:24</div>
<div class="t" id="xt">UHRZEIT</div>
<div class="t" id="yt">TEMPERATUR IN °C</div>
</body></html>
